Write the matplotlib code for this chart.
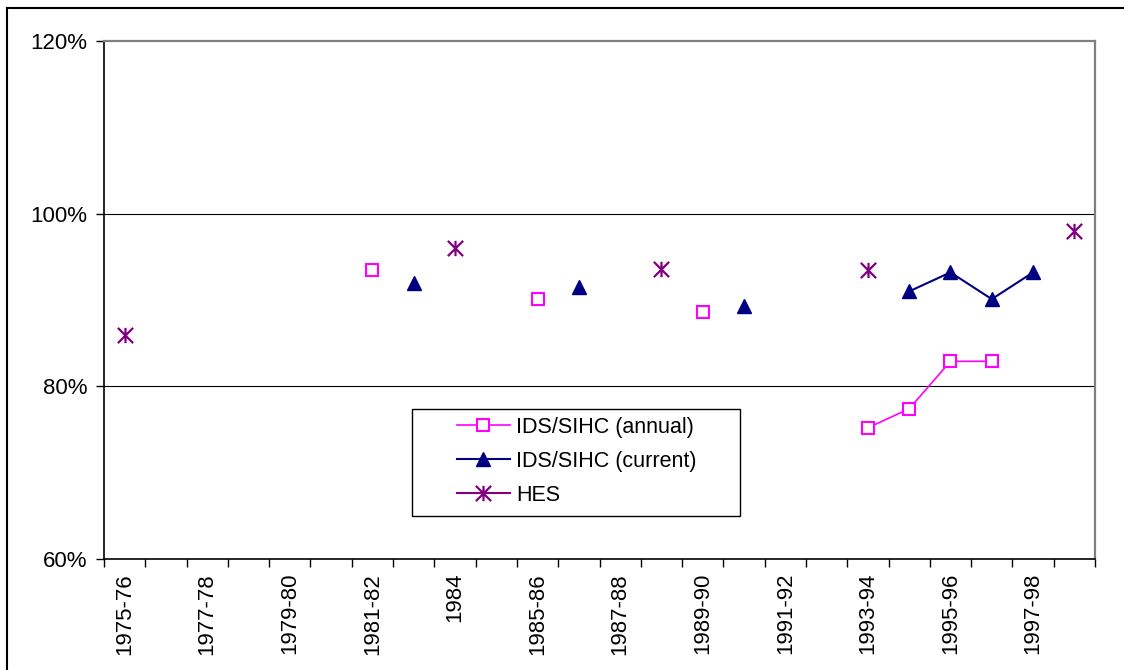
import numpy as np
import matplotlib.pyplot as plt
from matplotlib.path import Path
from matplotlib.lines import Line2D
from matplotlib.patches import Rectangle

plt.rcParams['font.family'] = ['Liberation Sans', 'DejaVu Sans']

# Survey years (one category per year); only every other one is labelled
years = ['1975-76', '1976-77', '1977-78', '1978-79', '1979-80', '1980-81',
         '1981-82', '1982-83', '1984', '1984-85', '1985-86', '1986-87',
         '1987-88', '1988-89', '1989-90', '1990-91', '1991-92', '1992-93',
         '1993-94', '1994-95', '1995-96', '1996-97', '1997-98', '1998-99']

nan = np.nan
# Coverage ratios (%), NaN where the survey has no figure for that year
ids_annual = [nan, nan, nan, nan, nan, nan, 93.5, nan, nan, nan, 90.1, nan,
              nan, nan, 88.6, nan, nan, nan, 75.2, 77.4, 82.9, 82.9, nan, nan]
ids_current = [nan, nan, nan, nan, nan, nan, nan, 92.0, nan, nan, nan, 91.5,
               nan, nan, nan, 89.3, nan, nan, nan, 91.0, 93.2, 90.1, 93.2, nan]
hes = [86.0, nan, nan, nan, nan, nan, nan, nan, 96.0, nan, nan, nan,
       nan, 93.6, nan, nan, nan, nan, 93.5, nan, nan, nan, nan, 98.0]

ytick_values = [60, 80, 100, 120]

# asterisk marker: vertical bar plus an X
star = Path([(0, -1), (0, 1), (-1, -1), (1, 1), (-1, 1), (1, -1)],
            [Path.MOVETO, Path.LINETO, Path.MOVETO, Path.LINETO,
             Path.MOVETO, Path.LINETO])

annual_style = dict(color='#FF00FF', lw=1.2, marker='s', markersize=8.5,
                    markerfacecolor='white', markeredgecolor='#FF00FF',
                    markeredgewidth=1.5)
current_style = dict(color='#000080', lw=1.5, marker='^', markersize=10,
                     markerfacecolor='#000080', markeredgecolor='#000080')
hes_style = dict(color='#800080', lw=1.5, marker=star, markersize=11,
                 markeredgecolor='#800080', markeredgewidth=1.6)

fig = plt.figure(figsize=(11.24, 6.7), dpi=100)
ax = fig.add_axes([104 / 1124, 1 - 559 / 670, 991 / 1124, 518 / 670])

x = np.arange(len(years))
ax.plot(x, ids_annual, zorder=3, **annual_style)
ax.plot(x, ids_current, zorder=3, **current_style)
ax.plot(x, hes, linestyle='none', zorder=3, **hes_style)

ax.set_xlim(-0.5, len(years) - 0.5)
ax.set_ylim(60, 120)

# category boundaries get the tick marks, labels sit on category centres
ax.set_xticks(np.arange(-0.5, len(years), 1.0))
ax.set_xticklabels([])
ax.set_xticks(x[::2], minor=True)
ax.set_xticklabels(years[::2], minor=True, rotation=90, fontsize=16)
ax.tick_params(axis='x', which='major', direction='out', length=6, width=1)
ax.tick_params(axis='x', which='minor', length=0, pad=10)

ax.set_yticks(ytick_values)
ax.set_yticklabels([f'{v}%' for v in ytick_values], fontsize=16)
ax.tick_params(axis='y', direction='out', length=6, width=1, pad=6)

for v in [80, 100]:
    ax.axhline(v, color='black', lw=0.8, zorder=1)

for side in ['left', 'bottom']:
    ax.spines[side].set_color('black')
    ax.spines[side].set_linewidth(1.2)
for side in ['top', 'right']:
    ax.spines[side].set_color('#808080')
    ax.spines[side].set_linewidth(1.6)

# legend box drawn separately so it can be wider than its contents
ax.add_patch(Rectangle((0.311, 0.083), 0.331, 0.207, transform=ax.transAxes,
                       facecolor='white', edgecolor='black', lw=1.0, zorder=4))
handles = [Line2D([], [], **annual_style),
           Line2D([], [], **current_style),
           Line2D([], [], **hes_style)]
leg = ax.legend(handles, ['IDS/SIHC (annual)', 'IDS/SIHC (current)', 'HES'],
                loc='center left', bbox_to_anchor=(0.3562, 0.189),
                fontsize=15.5, frameon=False, handlelength=2.45,
                handletextpad=0.3, labelspacing=0.6, borderpad=0,
                borderaxespad=0)
leg.set_zorder(5)

# outer chart border
fig.add_artist(Line2D([7 / 1124, 1.0], [1 - 8 / 670, 1 - 8 / 670],
                      transform=fig.transFigure, color='black', lw=1.5))
fig.add_artist(Line2D([7 / 1124, 7 / 1124], [0.0, 1 - 8 / 670],
                      transform=fig.transFigure, color='black', lw=1.5))

fig.savefig('out.png', dpi=100, facecolor='white')
